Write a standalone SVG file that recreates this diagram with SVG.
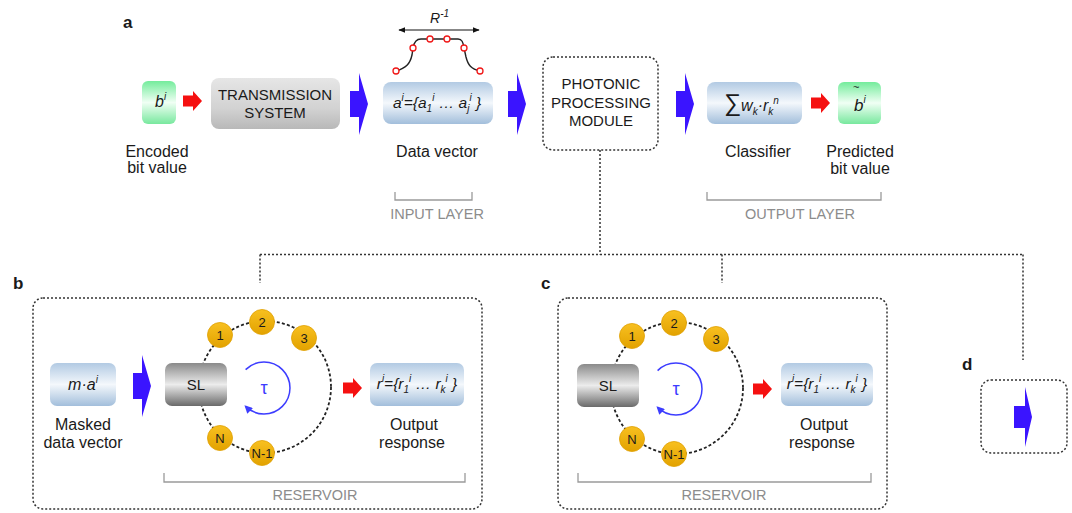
<svg xmlns="http://www.w3.org/2000/svg" width="1072" height="513" viewBox="0 0 1072 513">
<defs>
<linearGradient id="gGreen" x1="0" y1="0" x2="0" y2="1"><stop offset="0" stop-color="#74ec9c"/><stop offset="0.5" stop-color="#f0fff4"/><stop offset="1" stop-color="#78e89e"/></linearGradient>
<linearGradient id="gBlue" x1="0" y1="0" x2="0" y2="1"><stop offset="0" stop-color="#b2cae3"/><stop offset="0.5" stop-color="#f4f8fc"/><stop offset="1" stop-color="#a2bedb"/></linearGradient>
<linearGradient id="gGray" x1="0" y1="0" x2="0" y2="1"><stop offset="0" stop-color="#e6e6e6"/><stop offset="0.6" stop-color="#d2d2d2"/><stop offset="1" stop-color="#b8b8b8"/></linearGradient>
<linearGradient id="gSL" x1="0" y1="0" x2="0" y2="1"><stop offset="0" stop-color="#8a8a8a"/><stop offset="0.5" stop-color="#ececec"/><stop offset="1" stop-color="#6a6a6a"/></linearGradient>
<linearGradient id="gOrange" x1="0" y1="0" x2="0" y2="1"><stop offset="0" stop-color="#f8c020"/><stop offset="1" stop-color="#e2a200"/></linearGradient>
<marker id="mBlk" viewBox="0 0 10 10" refX="9" refY="5" markerWidth="7" markerHeight="7" orient="auto-start-reverse" markerUnits="userSpaceOnUse"><path d="M0,1 L10,5 L0,9 Z" fill="#111"/></marker>
<marker id="mTau" viewBox="0 0 10 10" refX="8" refY="5" markerWidth="8" markerHeight="8" orient="auto" markerUnits="userSpaceOnUse"><path d="M0,0 L10,5 L0,10 Z" fill="#3d3dff"/></marker>
<path id="blueArrow" d="M0,-13 L9,-13 L9,-31 L18,0 L9,31 L9,13 L0,13 Z" fill="#3a14ff"/>
<path id="redArrow" d="M0,-5.5 L10,-5.5 L10,-10 L19,0 L10,10 L10,5.5 L0,5.5 Z" fill="#f51010"/>
<style>
text{font-family:"Liberation Sans",Arial,sans-serif;fill:#1a1a1a}
.lbl{font-size:16px;text-anchor:middle}
.cap{font-size:15px;text-anchor:middle}
.layer{font-size:14.5px;fill:#8c8c8c;text-anchor:middle}
.panel{font-size:17px;font-weight:bold}
.math{font-style:italic;font-size:16px}
.sm{font-size:10px}
.num{font-size:13px;text-anchor:middle}
.dash{fill:none;stroke:#333;stroke-width:1.5;stroke-dasharray:2 2}
.brk{fill:none;stroke:#9a9a9a;stroke-width:1.3}
.ring{fill:none;stroke:#222;stroke-width:1.8;stroke-dasharray:3 2.2}
.node{fill:url(#gOrange);stroke:#e0a000;stroke-width:0.8}
</style>
</defs>
<rect width="1072" height="513" fill="#ffffff"/>

<g id="connectors">
<path class="dash" d="M600,150 V254.5 M260,254.5 H1023 M260,254.5 V283 M722,254.5 V283 M1023,254.5 V360"/>
<use href="#redArrow" x="183" y="101"/>
<use href="#blueArrow" x="350" y="104"/>
<use href="#blueArrow" x="508" y="104"/>
<use href="#blueArrow" x="676" y="104"/>
<use href="#redArrow" x="811" y="103"/>
</g>

<text class="panel" x="123" y="28">a</text>
<text class="panel" x="13" y="289">b</text>
<text class="panel" x="541" y="289">c</text>
<text class="panel" x="962" y="370">d</text>

<g id="encoded-bit">
<rect x="142" y="81" width="34" height="43" rx="6" fill="url(#gGreen)"/>
<text class="math" x="155" y="107">b<tspan class="sm" dy="-7">i</tspan></text>
<text class="lbl" x="157" y="157">Encoded</text>
<text class="lbl" x="157" y="173">bit value</text>
</g>

<g id="transmission-system">
<rect x="211" y="78" width="129" height="51" rx="8" fill="url(#gGray)"/>
<text class="cap" x="275" y="100">TRANSMISSION</text>
<text class="cap" x="275" y="118">SYSTEM</text>
</g>

<g id="waveform">
<path d="M399,30 H479" stroke="#111" stroke-width="1.2" marker-start="url(#mBlk)" marker-end="url(#mBlk)" fill="none"/>
<text class="math" x="430" y="23" style="font-size:14px">R<tspan class="sm" dy="-6">-1</tspan></text>
<path d="M396,71 C406,68 410,64 412,55 L413,48 C414,42 416,39 421,39 L458,39 C462,39 463,42 464,48 L466,57 C468,65 471,69 480,71" fill="none" stroke="#222" stroke-width="1.4"/>
<g fill="#fff" stroke="#f01818" stroke-width="1.3">
<circle cx="396" cy="71" r="3"/><circle cx="413" cy="48" r="3"/><circle cx="430" cy="39" r="3"/><circle cx="447" cy="39" r="3"/><circle cx="464" cy="48" r="3"/><circle cx="480" cy="71" r="3"/>
</g>
</g>

<g id="data-vector">
<rect x="383" y="82" width="110" height="42" rx="8" fill="url(#gBlue)"/>
<text class="math" x="437" y="108" text-anchor="middle" style="font-size:15.5px">a<tspan class="sm" dy="-7">i</tspan><tspan dy="7">={a</tspan><tspan class="sm" dy="4">1</tspan><tspan class="sm" dy="-11">i</tspan><tspan dy="7"> … a</tspan><tspan class="sm" dy="4">j</tspan><tspan class="sm" dy="-11">i</tspan><tspan dy="7"> }</tspan></text>
<text class="lbl" x="437" y="157">Data vector</text>
</g>

<g id="input-layer">
<path class="brk" d="M395,192 V200 H472 V192"/>
<text class="layer" x="437" y="219">INPUT LAYER</text>
</g>

<g id="photonic-module">
<rect class="dash" x="543" y="57" width="115" height="93" rx="10"/>
<text class="cap" x="601" y="89">PHOTONIC</text>
<text class="cap" x="601" y="108">PROCESSING</text>
<text class="cap" x="601" y="126">MODULE</text>
</g>

<g id="classifier">
<rect x="707" y="82" width="95" height="42" rx="8" fill="url(#gBlue)"/>
<text x="724" y="111" style="font-size:24px">∑<tspan class="math" style="font-size:16px">w</tspan><tspan class="math sm" dy="4">k</tspan><tspan class="math" style="font-size:16px" dy="-4">·r</tspan><tspan class="math sm" dy="4">k</tspan><tspan class="math sm" dy="-11">n</tspan></text>
<text class="lbl" x="758" y="157">Classifier</text>
</g>

<g id="predicted-bit">
<rect x="838" y="82" width="43" height="42" rx="6" fill="url(#gGreen)"/>
<text x="853" y="91" style="font-size:11px">~</text>
<text class="math" x="854" y="111" style="font-size:17px">b<tspan class="sm" dy="-8">i</tspan></text>
<text class="lbl" x="860" y="157">Predicted</text>
<text class="lbl" x="860" y="174">bit value</text>
</g>

<g id="output-layer">
<path class="brk" d="M707,192 V200 H881 V192"/>
<text class="layer" x="800" y="219">OUTPUT LAYER</text>
</g>

<g id="panel-b">
<rect class="dash" x="33" y="298" width="449" height="211" rx="10"/>
<g id="b-masked">
<rect x="50" y="363" width="66" height="43" rx="7" fill="url(#gBlue)"/>
<text class="math" x="83" y="390" text-anchor="middle">m·a<tspan class="sm" dy="-7">i</tspan></text>
<text class="lbl" x="83" y="430">Masked</text>
<text class="lbl" x="83" y="448">data vector</text>
</g>
<use href="#blueArrow" x="133" y="386"/>
<g id="b-reservoir">
<circle class="ring" cx="265" cy="387" r="66"/>
<g id="b-sl"><rect x="165" y="363" width="62" height="43" rx="7" fill="url(#gSL)"/>
<text class="cap" x="196" y="390">SL</text></g>
<path d="M245.6,369.6 A26,26 0 1 1 245.6,406.4" fill="none" stroke="#3d3dff" stroke-width="1.5" marker-end="url(#mTau)"/>
<text x="264" y="394" text-anchor="middle" style="font-size:18px;fill:#3d3dff">τ</text>
<g id="b-n1"><circle class="node" cx="220" cy="335" r="12.5"/><text class="num" x="220" y="340">1</text></g>
<g id="b-n2"><circle class="node" cx="262" cy="322" r="12.5"/><text class="num" x="262" y="327">2</text></g>
<g id="b-n3"><circle class="node" cx="304" cy="338" r="12.5"/><text class="num" x="304" y="343">3</text></g>
<g id="b-nN"><circle class="node" cx="220" cy="438" r="12.5"/><text class="num" x="220" y="443">N</text></g>
<g id="b-nN1"><circle class="node" cx="262" cy="453" r="12.5"/><text class="num" x="262" y="458">N-1</text></g>
</g>
<use href="#redArrow" x="343" y="388"/>
<g id="b-output">
<rect x="370" y="363" width="94" height="43" rx="7" fill="url(#gBlue)"/>
<text class="math" x="417" y="389" text-anchor="middle" style="font-size:15.5px">r<tspan class="sm" dy="-7">i</tspan><tspan dy="7">={r</tspan><tspan class="sm" dy="4">1</tspan><tspan class="sm" dy="-11">i</tspan><tspan dy="7"> … r</tspan><tspan class="sm" dy="4">k</tspan><tspan class="sm" dy="-11">i</tspan><tspan dy="7"> }</tspan></text>
<text class="lbl" x="414" y="430">Output</text>
<text class="lbl" x="412" y="448">response</text>
</g>
<path class="brk" d="M164,473 V482 H465 V473"/>
<text class="layer" x="315" y="500">RESERVOIR</text>
</g>

<g id="panel-c">
<rect class="dash" x="558" y="298" width="329" height="211" rx="10"/>
<g transform="translate(412,1)">
<g id="c-reservoir">
<circle class="ring" cx="265" cy="387" r="66"/>
<g id="c-sl"><rect x="165" y="363" width="62" height="43" rx="7" fill="url(#gSL)"/>
<text class="cap" x="196" y="390">SL</text></g>
<path d="M245.6,369.6 A26,26 0 1 1 245.6,406.4" fill="none" stroke="#3d3dff" stroke-width="1.5" marker-end="url(#mTau)"/>
<text x="264" y="394" text-anchor="middle" style="font-size:18px;fill:#3d3dff">τ</text>
<g id="c-n1"><circle class="node" cx="220" cy="335" r="12.5"/><text class="num" x="220" y="340">1</text></g>
<g id="c-n2"><circle class="node" cx="262" cy="322" r="12.5"/><text class="num" x="262" y="327">2</text></g>
<g id="c-n3"><circle class="node" cx="304" cy="338" r="12.5"/><text class="num" x="304" y="343">3</text></g>
<g id="c-nN"><circle class="node" cx="220" cy="438" r="12.5"/><text class="num" x="220" y="443">N</text></g>
<g id="c-nN1"><circle class="node" cx="262" cy="453" r="12.5"/><text class="num" x="262" y="458">N-1</text></g>
</g>
<use href="#redArrow" x="341" y="388"/>
<g id="c-output">
<rect x="369" y="362" width="92" height="43" rx="7" fill="url(#gBlue)"/>
<text class="math" x="415" y="388" text-anchor="middle" style="font-size:15.5px">r<tspan class="sm" dy="-7">i</tspan><tspan dy="7">={r</tspan><tspan class="sm" dy="4">1</tspan><tspan class="sm" dy="-11">i</tspan><tspan dy="7"> … r</tspan><tspan class="sm" dy="4">k</tspan><tspan class="sm" dy="-11">i</tspan><tspan dy="7"> }</tspan></text>
<text class="lbl" x="412" y="429">Output</text>
<text class="lbl" x="410" y="447">response</text>
</g>
<path class="brk" d="M166,472 V481 H459 V472"/>
<text class="layer" x="312" y="499">RESERVOIR</text>
</g>
</g>

<g id="panel-d">
<rect class="dash" x="981" y="380" width="86" height="73" rx="10"/>
<path d="M1014,406 L1025,406 L1025,387 L1032,417 L1025,447 L1025,428 L1014,428 Z" fill="#3a14ff"/>
</g>
</svg>
